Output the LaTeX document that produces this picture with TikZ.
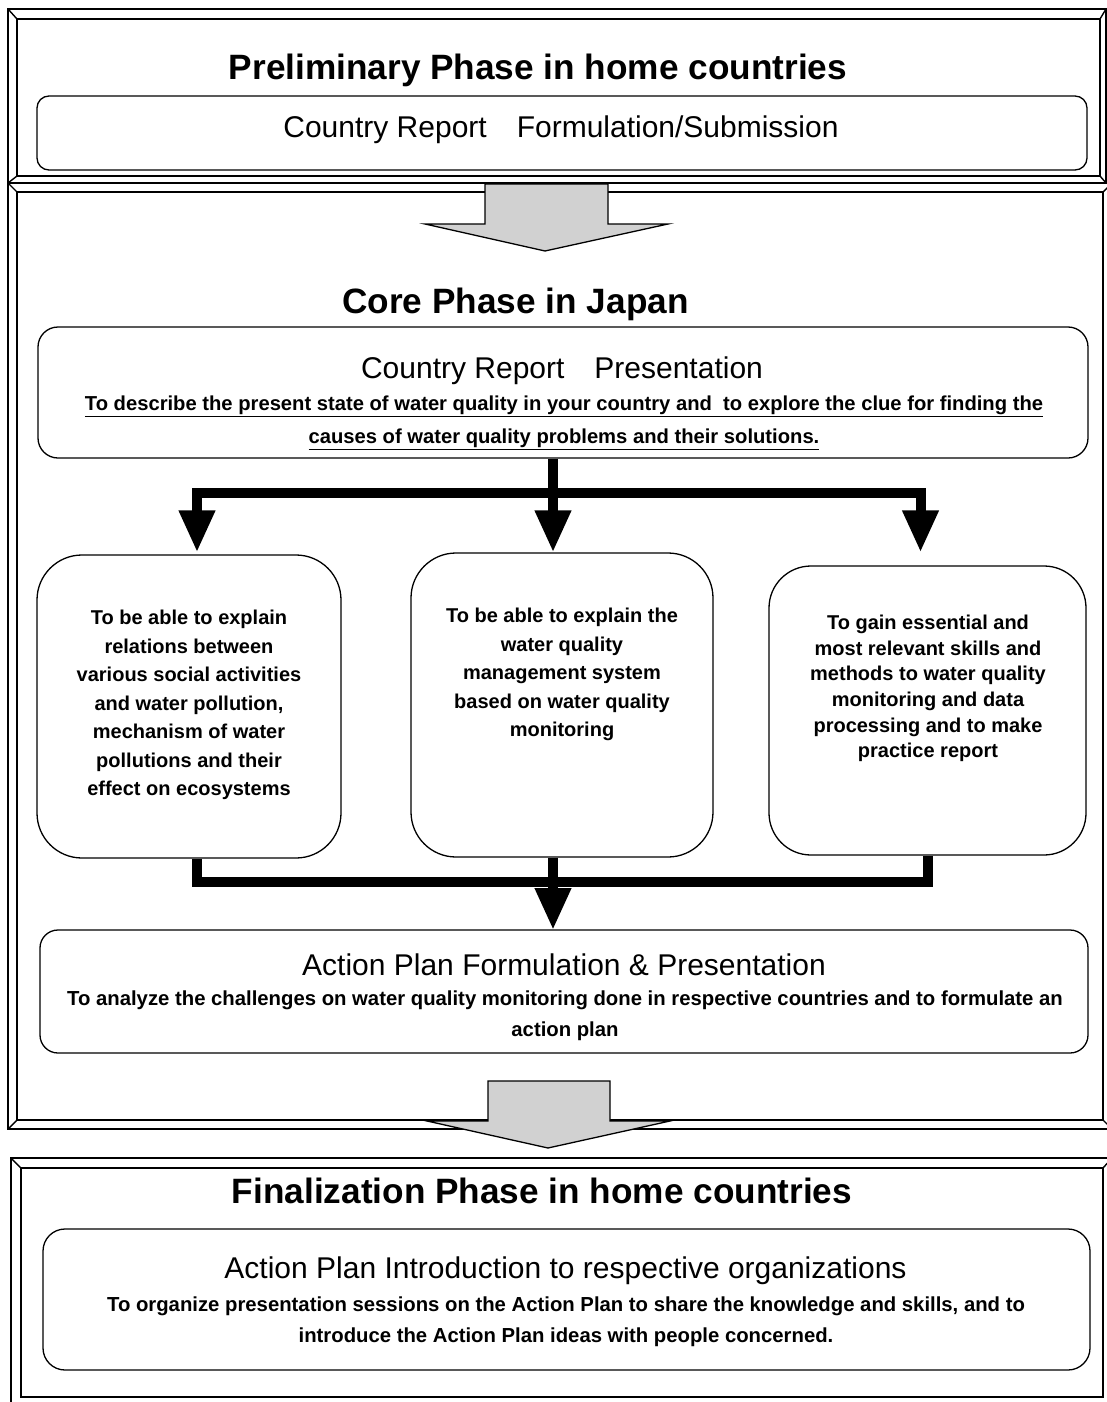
\documentclass[tikz,border=0pt]{standalone}
\usepackage{fontspec}
\setmainfont{Liberation Sans}
\usetikzlibrary{arrows.meta}
\begin{document}
\begin{tikzpicture}[x=1pt,y=-1pt,
  frameline/.style={line width=1.4pt},
  rbox/.style={draw, line width=1.3pt, rounded corners=#1, inner sep=0pt},
  phasetitle/.style={font=\fontsize{35.2}{40}\selectfont\bfseries, inner sep=0pt, anchor=base},
  boxtitle/.style={font=\fontsize{30}{34}\selectfont, inner sep=0pt, anchor=base},
  bodytext/.style={font=\fontsize{20}{28.5}\selectfont\bfseries, align=center, inner sep=0pt, anchor=north},
  narrowtext/.style={font=\fontsize{20.3}{30.5}\selectfont\bfseries, align=center, inner sep=0pt, anchor=north},
  ultext/.style={font=\fontsize{20.2}{33}\selectfont\bfseries, align=center, inner sep=0pt, anchor=north},
  bigarrow/.style={fill=black!18, draw, line width=1.3pt, line join=miter},
  conn/.style={line width=10pt, -{Triangle[width=34pt,length=42pt]}},
  bar/.style={line width=10pt, line join=miter}
]
\useasboundingbox (0,0) rectangle (1107,1402);
\clip (0,0) rectangle (1107,1402);

% ---------- phase frames ----------
\draw[frameline] (8,9) rectangle (1106,183);
\draw[frameline] (17,19) rectangle (1100,176);
\draw[frameline] (8,9) -- (17,19) (1106,9) -- (1100,19) (8,183) -- (17,176) (1106,183) -- (1100,176);

\draw[frameline] (8,183) rectangle (1112,1129);
\draw[frameline] (17,192) rectangle (1103,1120);
\draw[frameline] (8,183) -- (17,192) (1112,183) -- (1103,192) (8,1129) -- (17,1120) (1112,1129) -- (1103,1120);

\draw[frameline] (11,1158) rectangle (1112,1406);
\draw[frameline] (21,1168) rectangle (1103,1397);
\draw[frameline] (11,1158) -- (21,1168) (1112,1158) -- (1103,1168);

% ---------- preliminary phase ----------
\node[phasetitle] (t1) at (538,80) {Preliminary Phase in home countries};
\node[rbox=12pt, minimum width=1050pt, minimum height=74pt] (cr1) at (562,133) {};
\node[boxtitle] (cr1t) at (561,137) {Country Report\hspace{30pt}Formulation/Submission};

% ---------- block arrow 1 ----------
\draw[bigarrow] (485,184) -- (485,224) -- (425,224) -- (545,251) -- (668,224) -- (608,224) -- (608,184) -- cycle;

% ---------- core phase ----------
\node[phasetitle] (t2) at (515.5,313) {Core Phase in Japan};
\node[rbox=20pt, minimum width=1050pt, minimum height=131pt] (cr) at (563,392.5) {};
\node[boxtitle] (crt) at (562,378) {Country Report\hspace{30pt}Presentation};
\node[ultext] (crd) at (564,396) {\underline{To describe the present state of water quality in your country and\ \ to explore the clue for finding the}\\\underline{causes of water quality problems and their solutions.}};

\node[rbox=45pt, minimum width=304pt, minimum height=303pt] (b1) at (189,706.5) {};
\node[rbox=45pt, minimum width=302pt, minimum height=304pt] (b2) at (562,705) {};
\node[rbox=42pt, minimum width=317pt, minimum height=289pt] (b3) at (927.5,710.5) {};

\node[bodytext] (b1t) at (189,610) {To be able to explain\\relations between\\various social activities\\and water pollution,\\mechanism of water\\pollutions and their\\effect on ecosystems};
\node[bodytext] (b2t) at (562,608) {To be able to explain the\\water quality\\management system\\based on water quality\\monitoring};
\node[bodytext, font=\fontsize{20}{25.6}\selectfont\bfseries] (b3t) at (928,615) {To gain essential and\\most relevant skills and\\methods to water quality\\monitoring and data\\processing and to make\\practice report};

% connectors down
\coordinate (jM) at (553,493);
\draw[conn] ([xshift=-10pt]cr.south) -- ([xshift=-9pt]b2.north);
\draw[conn] (jM) -| ([xshift=8pt,yshift=2pt]b1.north);
\draw[conn] (jM) -| ([xshift=-7pt,yshift=13pt]b3.north);

% connectors merge
\draw[bar] ([xshift=8pt]b1.south) |- (927.5,882) -- (b3.south);
\draw[conn] ([xshift=-9pt]b2.south) -- (553,930);

\node[rbox=18pt, minimum width=1048pt, minimum height=123pt] (ap) at (564,991.5) {};
\node[boxtitle] (apt) at (564,975) {Action Plan Formulation \& Presentation};
\node[narrowtext] (apd) at (565,991) {To analyze the challenges on water quality monitoring done in respective countries and to formulate an\\action plan};

% ---------- block arrow 2 ----------
\draw[bigarrow] (488,1081) -- (488,1121) -- (427,1121) -- (548,1148) -- (670,1121) -- (610,1121) -- (610,1081) -- cycle;

% ---------- finalization ----------
\node[phasetitle] (t3) at (542,1203) {Finalization Phase in home countries};
\node[rbox=22pt, minimum width=1047pt, minimum height=141pt] (fn) at (566.5,1299.5) {};
\node[boxtitle] (fnt) at (565.5,1278) {Action Plan Introduction to respective organizations};
\node[narrowtext] (fnd) at (566,1297) {To organize presentation sessions on the Action Plan to share the knowledge and skills, and to\\introduce the Action Plan ideas with people concerned.};
\end{tikzpicture}
\end{document}
